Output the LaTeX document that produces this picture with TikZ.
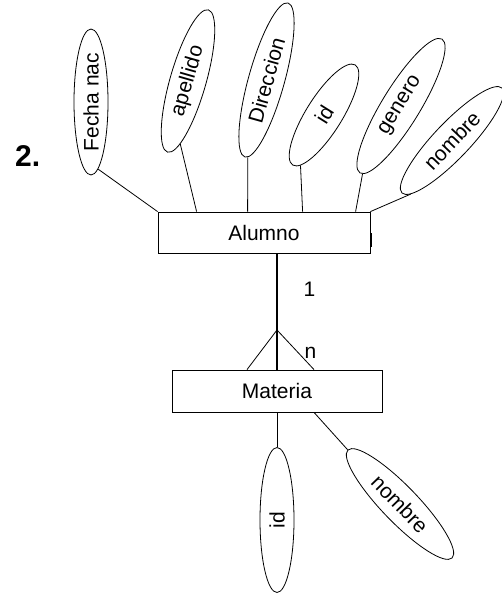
\documentclass[tikz,border=0pt]{standalone}
\usepackage{fontspec}
\setmainfont{Liberation Sans}
\usetikzlibrary{shapes.geometric}
\begin{document}
\begin{tikzpicture}[x=1pt,y=-1pt,
  attr/.style={ellipse, draw, line width=0.8pt, inner sep=0pt, font=\fontsize{21}{25}\selectfont},
  entity/.style={rectangle, draw, line width=0.8pt, inner sep=0pt, font=\fontsize{21}{25}\selectfont},
  lbl/.style={inner sep=0pt, font=\fontsize{21}{25}\selectfont},
  conn/.style={line width=0.8pt},
  rel/.style={line width=1.3pt}]
\useasboundingbox (0,0) rectangle (502,596);
% attributes of Alumno
\node[attr, minimum width=146pt, minimum height=34pt, rotate=90] (fecha) at (91,102) {Fecha nac};
\node[attr, minimum width=148pt, minimum height=36pt, rotate=74] (apellido) at (188,81) {apellido};
\node[attr, minimum width=160pt, minimum height=36pt, rotate=74.4] (direccion) at (266.5,80) {Direccion};
\node[attr, minimum width=118pt, minimum height=36pt, rotate=58] (aid) at (324,115) {id};
\node[attr, minimum width=157pt, minimum height=38pt, rotate=58.5] (genero) at (401,106) {genero};
\node[attr, minimum width=145pt, minimum height=36pt, rotate=46.4] (anombre) at (452,140.5) {nombre};
% attributes of Materia
\node[attr, minimum width=145pt, minimum height=34pt, rotate=90] (mid) at (277,520) {id};
\node[attr, minimum width=150pt, minimum height=36pt, rotate=-46] (mnombre) at (400,504) {nombre};
% entities
\node[entity, minimum width=212pt, minimum height=41pt] (alumno) at (264,232.5) {Alumno};
\node[entity, minimum width=210pt, minimum height=42pt] (materia) at (277,391) {Materia};
% labels
\node[lbl] (one) at (309.5,289.5) {1};
\node[lbl] (enn) at (310.5,352.5) {n};
\node[font=\bfseries\fontsize{30}{36}\selectfont, anchor=base west, inner sep=0pt] (num) at (15,167) {2.};
% relationship
\coordinate (apex) at (277,330);
\draw[rel] (materia.north |- alumno.south) -- (materia.north);
\draw[conn] ([xshift=-30pt]materia.north) -- (apex) -- ([xshift=37pt]materia.north);
% attribute connectors
\draw[conn] (fecha.186) -- (alumno.north west);
\draw[conn] (apellido.189) -- ([xshift=39pt]alumno.north west);
\draw[conn] (direccion.182) -- ([xshift=90pt]alumno.north west);
\draw[conn] (aid.187) -- ([xshift=145pt]alumno.north west);
\draw[conn] (genero.182) -- ([xshift=198pt]alumno.north west);
\draw[conn] (anombre.186) -- (alumno.north east);
\draw[conn] (materia.south) -- (mid.east);
\draw[conn] ([xshift=37pt]materia.south) -- (mnombre.west);
% small mark on Alumno right edge
\draw[line width=2pt] ([shift={(1pt,-0.5pt)}]alumno.east) -- ++(0pt,-14pt);
\end{tikzpicture}
\end{document}
